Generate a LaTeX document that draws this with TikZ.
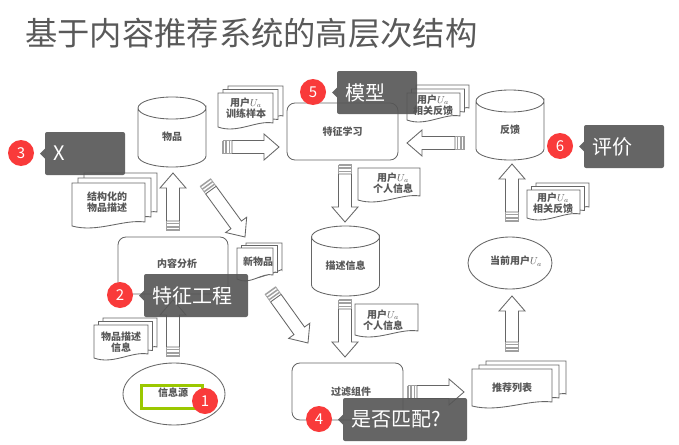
\documentclass[tikz,border=0pt]{standalone}
\usepackage{fontspec}
\setmainfont{Noto Sans CJK SC}
\usetikzlibrary{calc}
\definecolor{inkline}{HTML}{666666}
\definecolor{inktext}{HTML}{585858}
\definecolor{stripe}{HTML}{A0A0A0}
\definecolor{labelbg}{HTML}{555555}
\definecolor{badgered}{HTML}{F93A3A}
\definecolor{greenbox}{HTML}{9BC800}
\definecolor{titlegray}{HTML}{595959}
\tikzset{
  shapeline/.style={draw=inkline,line width=0.85pt,fill=white},
  difftext/.style={text=inktext,font=\fontsize{10}{11.5}\selectfont\bfseries,align=center,inner sep=0pt},
  procbox/.style={shapeline,rounded corners=8pt,inner sep=0pt},
  calloutshape/.style={fill=labelbg,fill opacity=0.9,rounded corners=2pt},
  callouttext/.style={text=white,font=\fontsize{20}{24}\selectfont,anchor=west,inner sep=0pt},
  badge/.style={circle,fill=badgered,minimum size=26pt,inner sep=0pt,text=white,font=\fontsize{15}{18}\selectfont},
}
% name, tail x,y, head x,y
\newcommand{\blockarrow}[5]{%
  \coordinate (#1-t) at (#2,#3);
  \coordinate (#1-h) at (#4,#5);
  \path let \p1=($(#1-h)-(#1-t)$) in \pgfextra{%
    \pgfmathsetmacro{\arrang}{atan2(\y1,\x1)}%
    \pgfmathsetmacro{\arrlen}{veclen(\x1,\y1)}%
    \xdef\arrangG{\arrang}\xdef\arrlenG{\arrlen}};
  \pgfmathsetmacro{\arrneck}{\arrlenG-15}
  \begin{scope}[shift={(#1-t)},rotate=\arrangG,x=1pt,y=1pt]
    \draw[shapeline] (10,-6.5) -- (\arrneck,-6.5) -- (\arrneck,-13) -- (\arrlenG,0) -- (\arrneck,13) -- (\arrneck,6.5) -- (10,6.5) -- cycle;
    \draw[stripe,line width=1.5pt] (1,-6.5) -- (1,6.5) (4.2,-6.5) -- (4.2,6.5) (7.4,-6.5) -- (7.4,6.5);
    \draw[stripe,line width=0.7pt] (0.5,-6.5) -- (10,-6.5) (0.5,6.5) -- (10,6.5);
  \end{scope}
}
% name, cx, ytop, ybottom, rx, ry, text
\newcommand{\drum}[7]{%
  \draw[shapeline] (#2-#5,#3+#6) -- (#2-#5,#4-#6) arc[start angle=180,end angle=360,x radius=#5,y radius=-#6] -- (#2+#5,#3+#6) arc[start angle=0,end angle=360,x radius=#5,y radius=#6];
  \node[difftext] (#1) at (#2,{(#3+#4)/2+5}) {#7};
}
% one sheet with a wavy foot: x1,y1,x2,y2
\newcommand{\sheet}[4]{%
  \draw[shapeline] (#1,#2) -- (#3,#2) -- (#3,#4-8) .. controls ({#1+(#3-#1)*0.7},#4-11) and ({#1+(#3-#1)*0.35},#4+3) .. (#1,#4-4) -- cycle;
}
% name, x1,y1,x2,y2, dx, dy, text position x,y, text
\newcommand{\docstack}[9]{%
  \sheet{#2+2*#6}{#3-2*#7}{#4+2*#6}{#5-2*#7}
  \sheet{#2+#6}{#3-#7}{#4+#6}{#5-#7}
  \sheet{#2}{#3}{#4}{#5}
  \node[difftext] (#1) at (#8,#9) {\docstacktext};
}
% name, x, y, w, h, text
\newcommand{\callout}[6]{%
  \fill[calloutshape] (#2,#3) rectangle (#2+#4,#3+#5);
  \fill[fill=labelbg,fill opacity=0.9] (#2,#3+#5/2-5) -- (#2-5,#3+#5/2) -- (#2,#3+#5/2+5) -- cycle;
  \node[callouttext] (#1) at (#2+8,#3+#5/2) {#6};
}
\newcommand{\ua}{$U_{a}$}
\begin{document}
\begin{tikzpicture}[x=1pt,y=-1pt]
\path[use as bounding box,fill=white] (0,0) rectangle (679,444);
\node[anchor=west,text=titlegray,font=\fontsize{32.3}{36}\selectfont,inner sep=0pt] (title) at (25,33) {基于内容推荐系统的高层次结构};

% stores
\drum{store-items}{172}{97}{167}{34}{11}{物品}
\drum{store-feedback}{510}{90}{160}{34}{11}{反馈}
\drum{store-desc}{345.5}{226}{296}{34}{11}{描述信息}

% processes
\node[procbox,minimum width=111pt,minimum height=57pt] (learn) at (342.5,131.5) {};
\node[difftext] at (learn) {特征学习};
\node[procbox,minimum width=110pt,minimum height=57pt] (analyse) at (173,265.5) {};
\node[difftext] at (177,264) {内容分析};
\node[procbox,minimum width=111pt,minimum height=57pt] (filter) at (347.5,391.5) {};
\node[difftext] at (351,392) {过滤组件};

% ellipses
\draw[shapeline] (174,394) ellipse[x radius=51,y radius=31];
\node[difftext] (source) at (173,393) {信息源};
\draw[shapeline] (510,263) ellipse[x radius=42,y radius=26];
\node[difftext] (current) at (516,261) {当前用户\ua};

% documents
\def\docstacktext{结构化的\\物品描述}
\docstack{doc-struct}{72}{183}{145}{230}{6}{5}{107}{202}
\def\docstacktext{用户\ua\\训练样本}
\docstack{doc-train}{218}{93}{273}{131}{5}{3.5}{246}{108}
\def\docstacktext{用户\ua\\相关反馈}
\docstack{doc-fb-top}{407}{93}{460}{124}{4.5}{4}{433}{105}
\docstack{doc-fb-right}{527}{190}{580}{222}{4.5}{3.5}{553}{203}
\def\docstacktext{新物品}
\docstack{doc-new}{237}{248}{273}{283}{4.5}{2.5}{258}{262}
\def\docstacktext{物品描述\\信息}
\docstack{doc-raw}{94}{325}{148}{362}{4.5}{3.5}{121}{342}
\def\docstacktext{推荐列表}
\docstack{doc-list}{472}{369}{552}{410}{7}{4}{512}{388}
\sheet{358}{168}{420}{204}
\node[difftext] (doc-personal-a) at (393,183) {用户\ua\\个人信息};
\sheet{355}{304}{418}{339}
\node[difftext] (doc-personal-b) at (383,320) {用户\ua\\个人信息};

% block arrows
\blockarrow{a1}{222}{147}{279}{147}
\blockarrow{a2}{465}{143}{407}{143}
\blockarrow{a3}{345}{164}{345}{222}
\blockarrow{a4}{345}{299}{345}{357}
\blockarrow{a5}{173}{231}{173}{173}
\blockarrow{a6}{205}{182}{245}{237}
\blockarrow{a7}{270}{290}{308}{343}
\blockarrow{a8}{173}{357}{173}{300}
\blockarrow{a9}{407}{392}{464}{392}
\blockarrow{a10}{512}{352}{512}{296}
\blockarrow{a11}{512}{222}{512}{164}

% highlight
\draw[greenbox,line width=3pt] (141,385) rectangle (202,408);

% callouts
\callout{call-x}{45}{132}{80}{43}{X}
\callout{call-model}{337}{71}{80}{43}{模型}
\callout{call-eval}{584}{125}{80}{43}{评价}
\callout{call-feat}{144}{274}{104}{43}{特征工程}
\callout{call-match}{343}{398}{124}{43}{是否匹配?}

% badges
\node[badge] (b1) at (205,401) {1};
\node[badge] (b2) at (120,295) {2};
\node[badge] (b3) at (21,153) {3};
\node[badge] (b4) at (319,419) {4};
\node[badge] (b5) at (313,92) {5};
\node[badge] (b6) at (560,146) {6};
\end{tikzpicture}
\end{document}
